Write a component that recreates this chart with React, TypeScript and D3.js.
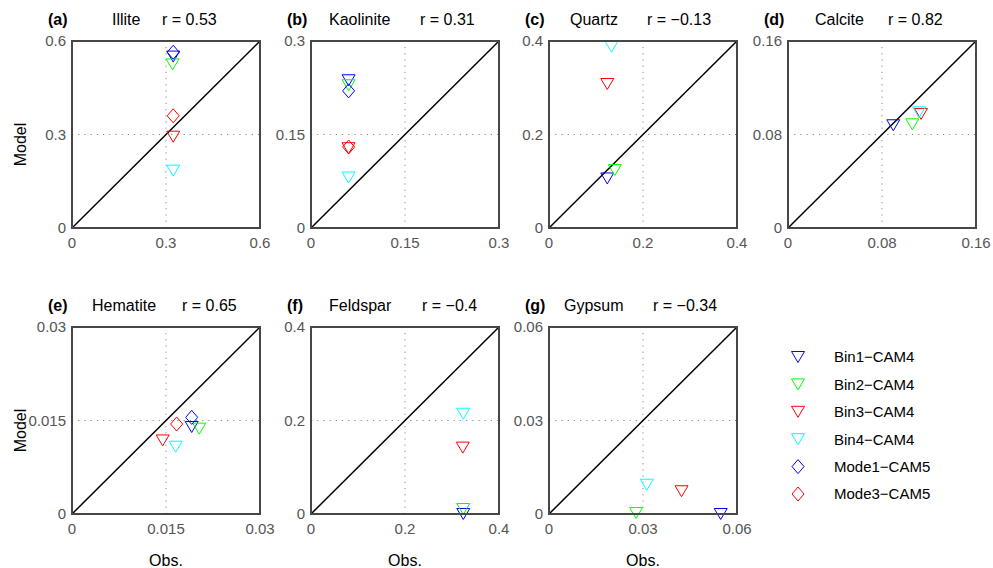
import React from "react";
import * as d3 from "d3";

const minerals = ["Illite", "Kaolinite", "Quartz", "Calcite", "Hematite", "Feldspar", "Gypsum"];
const panelLetters = ["(a)", "(b)", "(c)", "(d)", "(e)", "(f)", "(g)"];
const rValues = ["r = 0.53", "r = 0.31", "r = \u22120.13", "r = 0.82", "r = 0.65", "r = \u22120.4", "r = \u22120.34"];
const axisMax = [0.6, 0.3, 0.4, 0.16, 0.03, 0.4, 0.06];
const tickLabels = [
  ["0", "0.3", "0.6"],
  ["0", "0.15", "0.3"],
  ["0", "0.2", "0.4"],
  ["0", "0.08", "0.16"],
  ["0", "0.015", "0.03"],
  ["0", "0.2", "0.4"],
  ["0", "0.03", "0.06"],
];

const seriesNames = ["Bin1\u2212CAM4", "Bin2\u2212CAM4", "Bin3\u2212CAM4", "Bin4\u2212CAM4", "Mode1\u2212CAM5", "Mode3\u2212CAM5"];
const seriesColors = ["#0000ff", "#00ff00", "#ff0000", "#00ffff", "#0000ff", "#ff0000"];
const seriesShapes = ["tri", "tri", "tri", "tri", "diamond", "diamond"];

const bin1Obs = [0.323, 0.06, 0.124, 0.0896, 0.0191, 0.324, 0.0548];
const bin1Model = [0.55, 0.237, 0.106, 0.0879, 0.01396, 0.0, 0.0];
const bin2Obs = [0.321, 0.06, 0.14, 0.1058, 0.0203, 0.324, 0.0278];
const bin2Model = [0.525, 0.229, 0.124, 0.0887, 0.01369, 0.0107, 0.0003];
const bin3Obs = [0.323, 0.06, 0.124, 0.1132, 0.01447, 0.323, 0.0423];
const bin3Model = [0.293, 0.128, 0.308, 0.0976, 0.0118, 0.142, 0.0073];
const bin4Obs = [0.323, 0.06, 0.133, 0.1115, 0.01654, 0.324, 0.0312];
const bin4Model = [0.184, 0.081, 0.388, 0.099, 0.0108, 0.2145, 0.0094];
const mode1Obs = [0.323, 0.06, null, null, 0.0191, null, null];
const mode1Model = [0.564, 0.22, null, null, 0.0155, null, null];
const mode3Obs = [0.323, 0.06, null, null, 0.0167, null, null];
const mode3Model = [0.36, 0.13, null, null, 0.01444, null, null];

const seriesObs = [bin1Obs, bin2Obs, bin3Obs, bin4Obs, mode1Obs, mode3Obs];
const seriesModel = [bin1Model, bin2Model, bin3Model, bin4Model, mode1Model, mode3Model];

// layout
const W = 993;
const H = 568;
const panelLeft = [72, 311, 549, 788, 72, 311, 549];
const panelTop = [41, 41, 41, 41, 327, 327, 327];
const PW = 188;
const PH = 187;
const nameOffset = [40, 18, 21, 27, 20, 18, 15];
const rOffset = [90, 109, 98, 100, 110, 111, 104];
const FONT = "'Liberation Sans', Arial, Helvetica, sans-serif";

function Marker({ shape, color, x, y }: { shape: string; color: string; x: number; y: number }) {
  if (shape === "tri") {
    return (
      <path
        d={`M${x - 6.5},${y - 5.5}L${x + 6.5},${y - 5.5}L${x},${y + 5.5}Z`}
        fill="none"
        stroke={color}
        strokeWidth={1}
      />
    );
  }
  return (
    <path
      d={`M${x},${y - 7}L${x + 6},${y}L${x},${y + 7}L${x - 6},${y}Z`}
      fill="none"
      stroke={color}
      strokeWidth={1}
    />
  );
}

function Panel({ i }: { i: number }) {
  const L = panelLeft[i];
  const T = panelTop[i];
  const max = axisMax[i];
  const x = d3.scaleLinear().domain([0, max]).range([L, L + PW]);
  const y = d3.scaleLinear().domain([0, max]).range([T + PH, T]);
  const ticks = [0, max / 2, max];
  const bottomRow = T > 200;
  return (
    <g>
      <text x={L - 24} y={T - 16} fontSize={16} fontWeight="bold" fontFamily={FONT}>
        {panelLetters[i]}
      </text>
      <text x={L + nameOffset[i]} y={T - 16} fontSize={16} fontFamily={FONT}>
        {minerals[i]}
      </text>
      <text x={L + rOffset[i]} y={T - 16} fontSize={16} fontFamily={FONT}>
        {rValues[i]}
      </text>
      {/* grid */}
      <line x1={x(max / 2)} x2={x(max / 2)} y1={y(0)} y2={y(max)} stroke="#888" strokeWidth={1} strokeDasharray="1.2,5" />
      <line x1={x(0)} x2={x(max)} y1={y(max / 2)} y2={y(max / 2)} stroke="#888" strokeWidth={1} strokeDasharray="1.2,5" />
      {/* 1:1 line */}
      <line x1={x(0)} y1={y(0)} x2={x(max)} y2={y(max)} stroke="#000" strokeWidth={1.5} />
      {/* markers */}
      {seriesNames.map((_, s) => {
        const ox = seriesObs[s][i];
        const my = seriesModel[s][i];
        if (ox === null || my === null) return null;
        return <Marker key={s} shape={seriesShapes[s]} color={seriesColors[s]} x={x(ox as number)} y={y(my as number)} />;
      })}
      {/* frame */}
      <rect x={L} y={T} width={PW} height={PH} fill="none" stroke="#474747" strokeWidth={2} />
      {/* tick labels */}
      {ticks.map((t, k) => (
        <text key={"x" + k} x={x(t)} y={T + PH + 20} textAnchor="middle" fontSize={15} fill="#555" fontFamily={FONT}>
          {tickLabels[i][k]}
        </text>
      ))}
      {ticks.map((t, k) => (
        <text key={"y" + k} x={L - 6} y={y(t)} dy="0.36em" textAnchor="end" fontSize={15} fill="#555" fontFamily={FONT}>
          {tickLabels[i][k]}
        </text>
      ))}
      {(i === 0 || i === 4) && (
        <text
          transform={`translate(${L - 52},${T + PH / 2 + 10}) rotate(-90)`}
          textAnchor="middle"
          fontSize={16}
          fontFamily={FONT}
          dy="0.36em"
        >
          Model
        </text>
      )}
      {bottomRow && (
        <text x={L + PW / 2} y={T + PH + 52} textAnchor="middle" fontSize={16} fontFamily={FONT}>
          Obs.
        </text>
      )}
    </g>
  );
}

export default function App() {
  const legendX = 798;
  const legendY0 = 357;
  const legendStep = 27.4;
  return (
    <svg width={W} height={H} style={{ position: "absolute", left: 0, top: 0, background: "#fff" }}>
      <rect x={0} y={0} width={W} height={H} fill="#fff" />
      {minerals.map((_, i) => (
        <Panel key={i} i={i} />
      ))}
      {seriesNames.map((name, s) => (
        <g key={name}>
          <Marker shape={seriesShapes[s]} color={seriesColors[s]} x={legendX} y={legendY0 + s * legendStep} />
          <text x={834} y={legendY0 + s * legendStep} dy="0.36em" fontSize={15} fontFamily={FONT}>
            {name}
          </text>
        </g>
      ))}
    </svg>
  );
}
